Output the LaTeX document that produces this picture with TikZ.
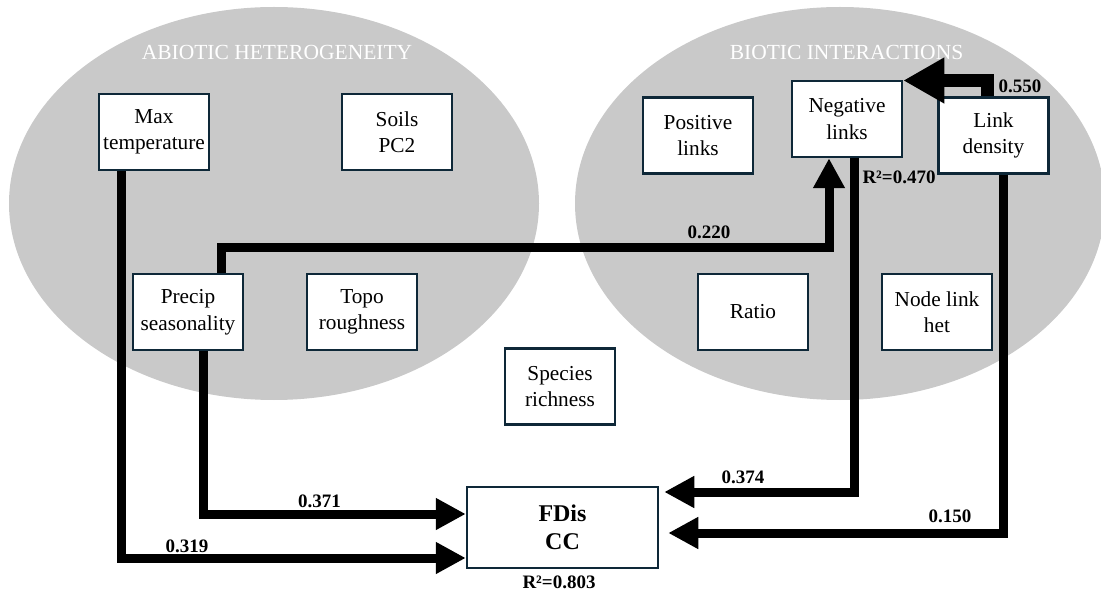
\documentclass[tikz,border=0pt]{standalone}
\usepackage{fontspec}
\setmainfont{Liberation Serif}
\usetikzlibrary{arrows.meta}
\definecolor{ellgray}{RGB}{201,201,201}
\definecolor{boxline}{RGB}{14,40,56}
\begin{document}
\begin{tikzpicture}[x=1pt,y=-1pt,
  varbox/.style={draw=boxline, line width=2.5pt, fill=white, minimum width=110pt, minimum height=76pt, inner sep=0pt, align=center, font=\fontsize{21.3}{26.5}\selectfont},
  conn/.style={line width=9pt, line join=miter, -{Triangle[length=30pt,width=30pt]}},
  bigconn/.style={line width=13pt, line join=miter, -{Triangle[length=41pt,width=43pt]}},
  coef/.style={font=\fontsize{19}{22}\selectfont\bfseries, anchor=base, inner sep=0pt},
  grouptitle/.style={font=\fontsize{21.5}{24}\selectfont, text=white, anchor=base, inner sep=0pt}
]
\useasboundingbox (0,0) rectangle (1101,604);
% groups
\fill[ellgray] (274,203.5) ellipse [x radius=265, y radius=196.5];
\fill[ellgray] (840,203.5) ellipse [x radius=265, y radius=196.5];
\node[grouptitle] (tabiotic) at (277,60) {ABIOTIC HETEROGENEITY};
\node[grouptitle] (tbiotic) at (846.5,60) {BIOTIC INTERACTIONS};
% variables
\node[varbox] (maxt) at (154,132) {Max\\temperature};
\node[varbox] (soils) at (397,132) {Soils\\PC2};
\node[varbox] (precip) at (188,312) {Precip\\seasonality};
\node[varbox] (topo) at (362,312) {Topo\\roughness};
\node[varbox] (species) at (560,386.5) {Species\\richness};
\node[varbox] (pos) at (698,135.5) {Positive\\links};
\node[varbox] (neg) at (847,119) {Negative\\links};
\node[varbox] (ld) at (993.5,135.5) {Link\\density};
\node[varbox] (ratio) at (753,312) {Ratio};
\node[varbox] (nlh) at (937,312) {Node link\\het};
\node[varbox, minimum width=191pt, minimum height=81pt, font=\fontsize{24}{28.5}\selectfont\bfseries] (fdis) at (562.5,527.5) {FDis\\CC};
% connectors
\coordinate (c220) at (829,247.5);
\draw[conn] ([xshift=33.5pt]precip.north) |- (c220) -- ([xshift=-18pt]neg.south);
\draw[conn] ([xshift=-32.5pt]maxt.south) |- ([yshift=-30.5pt]fdis.west);
\draw[conn] ([xshift=15.5pt]precip.south) |- ([yshift=13.5pt]fdis.west);
\draw[conn] ([xshift=7pt]neg.south) |- ([xshift=5pt,yshift=35.5pt]fdis.east);
\draw[conn] ([xshift=9.5pt]ld.south) |- ([xshift=9pt,yshift=-5.5pt]fdis.east);
\draw[bigconn] ([xshift=-6.5pt]ld.north) |- ([yshift=38.5pt]neg.east);
% coefficients
\node[coef] (k319) at (187,552) {0.319};
\node[coef] (k371) at (319.5,507) {0.371};
\node[coef] (k220) at (709,239) {0.220};
\node[coef] (k374) at (743,483) {0.374};
\node[coef] (k150) at (950,522) {0.150};
\node[coef] (k550) at (1020,93) {0.550};
\node[coef] (r470) at (899,184) {R²=0.470};
\node[coef] (r803) at (559,588) {R²=0.803};
\end{tikzpicture}
\end{document}
